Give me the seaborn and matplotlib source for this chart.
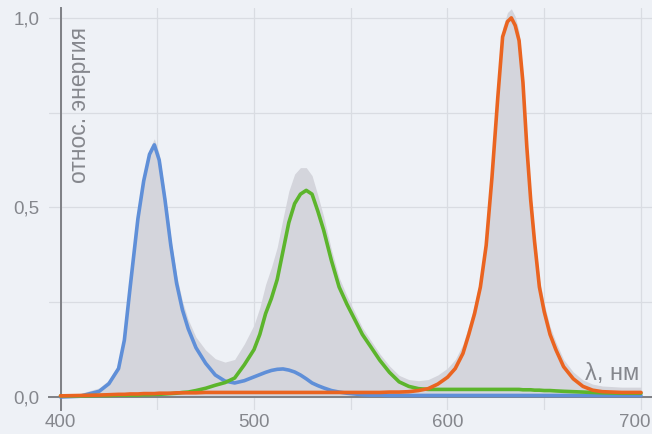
import pandas as pd
import matplotlib
matplotlib.use("Agg")
import matplotlib.pyplot as plt
from matplotlib.ticker import FixedLocator
import seaborn as sns

# wavelength grid (nm), denser around the peaks
wavelength = [400, 410, 420, 425, 430, 433, 436, 440, 443, 446, 448.5, 451, 454, 457,
              460, 463, 466, 470, 475, 480, 485, 490, 495, 500, 503, 506, 509, 512,
              515, 518, 521, 524, 527, 530, 533, 536, 540, 544, 548, 552, 556, 560,
              565, 570, 575, 580, 585, 590, 595, 600, 604, 608, 611, 614, 617, 620,
              623, 626, 628.5, 631, 633, 635, 637, 639, 641, 643, 645, 647.5, 650,
              653, 656, 660, 665, 670, 675, 680, 690, 700]

blue = [0.000, 0.002, 0.015, 0.035, 0.075, 0.15, 0.29, 0.47, 0.57, 0.64, 0.665, 0.625,
        0.52, 0.40, 0.30, 0.23, 0.18, 0.13, 0.089, 0.058, 0.042, 0.037, 0.043, 0.053,
        0.059, 0.065, 0.07, 0.073, 0.074, 0.071, 0.066, 0.058, 0.048, 0.037, 0.03,
        0.024, 0.017, 0.013, 0.01, 0.008, 0.006, 0.005, 0.005, 0.004, 0.004, 0.004,
        0.004, 0.004, 0.004, 0.004, 0.004, 0.004, 0.004, 0.004, 0.004, 0.004, 0.004,
        0.004, 0.004, 0.004, 0.004, 0.004, 0.004, 0.004, 0.004, 0.004, 0.004, 0.004,
        0.004, 0.004, 0.004, 0.004, 0.004, 0.004, 0.004, 0.004, 0.004, 0.004]

green = [0.003, 0.003, 0.004, 0.004, 0.005, 0.005, 0.005, 0.005, 0.006, 0.006, 0.007,
         0.007, 0.008, 0.009, 0.010, 0.012, 0.013, 0.017, 0.023, 0.031, 0.038, 0.05,
         0.085, 0.125, 0.165, 0.22, 0.26, 0.31, 0.385, 0.46, 0.51, 0.535, 0.545, 0.535,
         0.49, 0.44, 0.36, 0.29, 0.245, 0.205, 0.165, 0.135, 0.097, 0.065, 0.04, 0.028,
         0.022, 0.02, 0.02, 0.02, 0.02, 0.02, 0.02, 0.02, 0.02, 0.02, 0.02, 0.02, 0.02,
         0.02, 0.02, 0.02, 0.02, 0.019, 0.019, 0.019, 0.018, 0.018, 0.017, 0.017, 0.016,
         0.015, 0.014, 0.013, 0.012, 0.011, 0.01, 0.01]

orange = [0.003, 0.004, 0.005, 0.006, 0.007, 0.007, 0.008, 0.008, 0.009, 0.009, 0.009,
          0.010, 0.010, 0.010, 0.011, 0.011, 0.011, 0.011, 0.012, 0.012, 0.012, 0.012,
          0.012, 0.012, 0.012, 0.012, 0.012, 0.012, 0.012, 0.012, 0.012, 0.012, 0.012,
          0.012, 0.012, 0.012, 0.012, 0.012, 0.012, 0.012, 0.012, 0.012, 0.012, 0.013,
          0.013, 0.014, 0.017, 0.022, 0.034, 0.052, 0.075, 0.115, 0.165, 0.22, 0.29,
          0.40, 0.58, 0.79, 0.95, 0.99, 1.0, 0.98, 0.94, 0.83, 0.66, 0.52, 0.41, 0.29,
          0.225, 0.165, 0.125, 0.08, 0.048, 0.028, 0.018, 0.014, 0.012, 0.012]

x_ticks = [400, 500, 600, 700]
x_tick_labels = ["400", "500", "600", "700"]
x_minor = [450, 550, 650]
y_ticks = [0.0, 0.5, 1.0]
y_tick_labels = ["0,0", "0,5", "1,0"]
y_minor = [0.25, 0.75]

df = pd.DataFrame({"wl": wavelength, "blue": blue, "green": green, "orange": orange})
df["total"] = df["blue"] + df["green"] + df["orange"]

bg = "#eef1f6"
text_gray = "#85878d"
sns.set_style("white", {"axes.facecolor": bg, "figure.facecolor": bg})
plt.rcParams["font.family"] = ["Liberation Sans", "DejaVu Sans"]

fig = plt.figure(figsize=(6.52, 4.34), dpi=100)
ax = fig.add_axes([48.9 / 652, 24 / 434, 1 - 48.9 / 652, (410 - 8) / 434])

# gray envelope under all curves
ax.fill_between(df["wl"], 0, df["total"], color="#d4d5dc", lw=0, zorder=1)

line_kw = dict(lw=2.6, solid_joinstyle="round", solid_capstyle="round", zorder=3)
sns.lineplot(data=df, x="wl", y="blue", color="#5f8fd8", ax=ax, **line_kw)
sns.lineplot(data=df, x="wl", y="green", color="#5cb52c", ax=ax, **line_kw)
sns.lineplot(data=df, x="wl", y="orange", color="#ea6420", ax=ax, **line_kw)

ax.set_xlim(394, 705.7)
ax.set_ylim(-0.0343, 1.026)

# last label ("700") sits at the right edge, drawn separately so it stays inside
ax.set_xticks(x_ticks)
ax.set_xticklabels(x_tick_labels[:-1] + [""])
ax.xaxis.set_minor_locator(FixedLocator(x_minor))
ax.set_yticks(y_ticks)
ax.set_yticklabels(y_tick_labels)
ax.yaxis.set_minor_locator(FixedLocator(y_minor))
ax.grid(True, which="both", color="#d9dce2", lw=0.9, zorder=0)
ax.set_axisbelow(True)

ax.tick_params(axis="x", which="both", length=0, pad=12, labelsize=13.5, colors=text_gray)
ax.tick_params(axis="y", which="both", length=0, pad=15, labelsize=13.5, colors=text_gray)

ax.annotate(x_tick_labels[-1], xy=(x_ticks[-1], 0), xytext=(7, -12),
            textcoords="offset points", ha="right", va="top",
            fontsize=13.5, color=text_gray, annotation_clip=False)

for side in ["top", "right"]:
    ax.spines[side].set_visible(False)
ax.spines["left"].set_position(("data", 400))
ax.spines["bottom"].set_position(("data", 0))
for side in ["left", "bottom"]:
    ax.spines[side].set_color("#7e8085")
    ax.spines[side].set_linewidth(1.4)
    ax.spines[side].set_zorder(2)

ax.set_xlabel("")
ax.set_ylabel("")
ax.text(410, 0.975, "относ. энергия", rotation=90, ha="center", va="top",
        fontsize=16.5, color=text_gray)
ax.text(699, 0.045, "λ, нм", ha="right", va="baseline", fontsize=17, color=text_gray)

fig.savefig("out.png", dpi=100, facecolor=bg)
